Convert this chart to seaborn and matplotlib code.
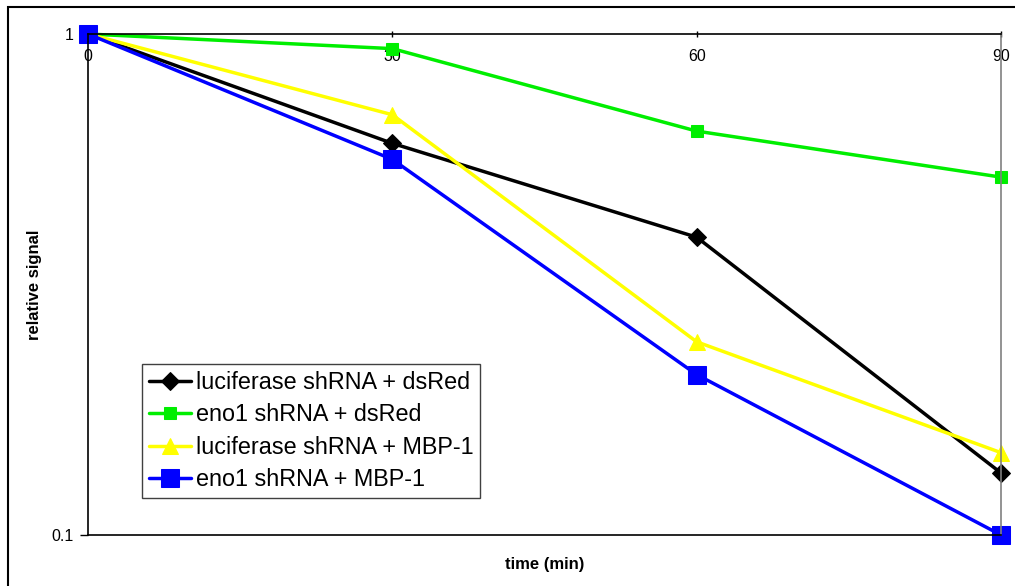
import matplotlib
matplotlib.use("Agg")
import matplotlib.pyplot as plt
import seaborn as sns
import pandas as pd
from matplotlib.patches import Rectangle

# time points (min)
times = [0, 30, 60, 90]

# relative signal per condition (log scale)
luc_dsred = [1.0, 0.605, 0.393, 0.133]
eno1_dsred = [1.0, 0.935, 0.64, 0.518]
luc_mbp1 = [1.0, 0.69, 0.243, 0.146]
eno1_mbp1 = [1.0, 0.562, 0.209, 0.1]

labels = ["luciferase shRNA + dsRed", "eno1 shRNA + dsRed",
          "luciferase shRNA + MBP-1", "eno1 shRNA + MBP-1"]

sns.set_style("white")
plt.rcParams['font.family'] = ['Liberation Sans', 'DejaVu Sans']
for k in ['text.color', 'axes.labelcolor', 'xtick.color', 'ytick.color']:
    plt.rcParams[k] = 'black'

fig = plt.figure(figsize=(10.15, 5.86), dpi=100)
ax = fig.add_axes([88 / 1015, 1 - 535 / 586, (1001 - 88) / 1015, (535 - 34) / 586])

styles = [
    (luc_dsred, "black", "D", 9.5),
    (eno1_dsred, "#00ee00", "s", 8.5),
    (luc_mbp1, "#ffff00", "^", 12),
    (eno1_mbp1, "#0000ff", "s", 12.5),
]
for (vals, col, mk, ms), lab in zip(styles, labels):
    df = pd.DataFrame({"time": times, "signal": vals})
    sns.lineplot(data=df, x="time", y="signal", ax=ax, color=col, marker=mk,
                 markersize=ms, markeredgecolor=col, linewidth=2.5, label=lab,
                 clip_on=False)

ax.set_yscale("log")
ax.set_ylim(0.1, 1)
ax.set_xlim(0, 90)
ax.set_yticks([0.1, 1])
ax.set_yticklabels(["0.1", "1"])
ax.yaxis.set_minor_locator(plt.NullLocator())
ax.set_xticks([0, 30, 60, 90])
ax.set_xticklabels(["0", "30", "60", "90"])
ax.xaxis.set_ticks_position("top")
ax.tick_params(axis="x", which="major", length=5, width=1, direction="inout",
               pad=-24, labelsize=11.5, labeltop=True, labelbottom=False)
ax.tick_params(axis="y", which="major", length=6, width=1, direction="out", left=True, labelsize=11.5, pad=4)

for s in ["left", "top", "bottom"]:
    ax.spines[s].set_color("black")
    ax.spines[s].set_linewidth(1.2)
ax.spines["right"].set_color("#808080")
ax.spines["right"].set_linewidth(1.2)

ax.set_xlabel("time (min)", fontsize=12, fontweight="bold", labelpad=16)
ax.set_ylabel("relative signal", fontsize=12, fontweight="bold", labelpad=7)

leg = ax.legend(loc="lower left", bbox_to_anchor=((142 - 88) / 913, (535 - 498) / 501),
                frameon=True, fancybox=False, fontsize=16.8, handlelength=1.8,
                borderpad=0.3, labelspacing=0.4, handletextpad=0.2, borderaxespad=0)
leg.get_frame().set_edgecolor("#404040")
leg.get_frame().set_linewidth(1.0)
leg.get_frame().set_alpha(1)

# outer chart border (cut off at right and bottom in the original)
fig.patches.append(Rectangle((8 / 1015, -0.05), 1.1, 1 - 7 / 586 + 0.05,
                             transform=fig.transFigure, fill=False,
                             edgecolor="black", linewidth=1.5))

fig.savefig("out.png", dpi=100)
